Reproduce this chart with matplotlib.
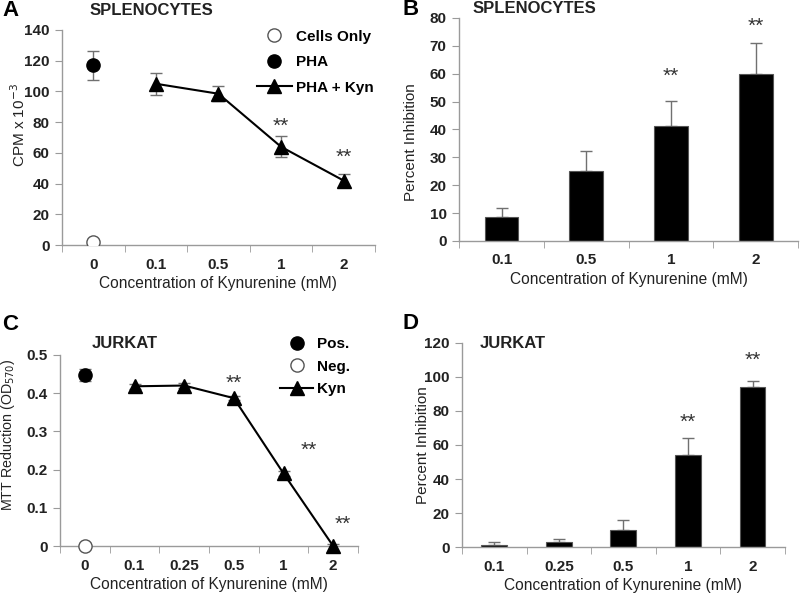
import numpy as np
import matplotlib
matplotlib.use('Agg')
import matplotlib.pyplot as plt
from matplotlib.ticker import FuncFormatter

plt.rcParams['font.family'] = ['Liberation Sans', 'DejaVu Sans']

# Panel A - splenocytes proliferation
a_cats = ['0', '0.1', '0.5', '1', '2']
a_pha = 117
a_pha_err = 9.5
a_cells = 2
a_cells_err = 0.5
a_kyn = [105, 98.5, 64, 42]
a_kyn_err = [7, 5, 7, 4]
a_stars = [(3, 77), (4, 57)]

# Panel B - splenocytes percent inhibition
b_cats = ['0.1', '0.5', '1', '2']
b_vals = [8.7, 25, 41.3, 60]
b_err = [3.2, 7.2, 9.0, 11.0]
b_stars = [(2, 59), (3, 77)]

# Panel C - Jurkat MTT
c_cats = ['0', '0.1', '0.25', '0.5', '1', '2']
c_pos = 0.448
c_pos_err = 0.015
c_neg = 0.0
c_kyn = [0.418, 0.42, 0.387, 0.19, 0.0]
c_kyn_err = [0.006, 0.006, 0.006, 0.006, 0.004]
c_stars = [(3, 0.427), (4.5, 0.251), (5.2, 0.058)]

# Panel D - Jurkat percent inhibition
d_cats = ['0.1', '0.25', '0.5', '1', '2']
d_vals = [1, 3, 10, 54, 94]
d_err = [2, 2, 6, 10, 3.5]
d_stars = [(3, 73.5), (4, 110)]

spine_col = '#9a9a9a'
txt_col = '#222222'
err_col = '#707070'

fig = plt.figure(figsize=(8, 5.94), dpi=100)


def style(ax, cats, ylim, yticks):
    for s in ['top', 'right']:
        ax.spines[s].set_visible(False)
    for s in ['left', 'bottom']:
        ax.spines[s].set_color(spine_col)
        ax.spines[s].set_linewidth(1.0)
    n = len(cats)
    ax.set_xlim(-0.5, n - 0.5)
    ax.set_ylim(*ylim)
    ax.set_xticks(range(n))
    ax.set_xticklabels(cats)
    ax.set_xticks(np.arange(-0.5, n, 1.0), minor=True)
    ax.tick_params(axis='x', which='major', length=0, pad=9)
    ax.tick_params(axis='x', which='minor', length=5, color=spine_col, direction='out')
    ax.set_yticks(yticks)
    ax.yaxis.set_major_formatter(FuncFormatter(lambda v, p: '%g' % v))
    ax.tick_params(axis='y', length=5, color=spine_col, direction='out', pad=4)
    for lab in ax.get_xticklabels() + ax.get_yticklabels():
        lab.set_fontsize(11)
        lab.set_fontweight('bold')
        lab.set_color(txt_col)
    ax.set_xlabel('Concentration of Kynurenine (mM)', fontsize=11.2, color=txt_col, labelpad=3)
    ax.set_facecolor('none')


star_kw = dict(ha='center', va='center', fontsize=15, color='#333333')

# ---- A ----
axA = fig.add_axes([0.0775, 0.5875, 0.391, 0.362])
style(axA, a_cats, (0, 140), range(0, 141, 20))
xk = np.arange(1, 5)
axA.errorbar([0], [a_pha], yerr=[a_pha_err], fmt='none', ecolor=err_col, capsize=4, elinewidth=1)
axA.errorbar([0], [a_cells], yerr=[a_cells_err], fmt='none', ecolor=err_col, capsize=3, elinewidth=1)
axA.errorbar(xk, a_kyn, yerr=a_kyn_err, fmt='none', ecolor=err_col, capsize=4, elinewidth=1)
axA.plot([0], [a_cells], 'o', mfc='white', mec='#555555', ms=9.5, mew=1, label='Cells Only', zorder=3)
axA.plot([0], [a_pha], 'o', color='black', ms=9.5, label='PHA', zorder=3)
axA.plot(xk, a_kyn, '-^', color='black', lw=1.5, ms=9.5, label='PHA + Kyn', zorder=3)
for x, y in a_stars:
    axA.text(x, y, '**', **star_kw)
axA.set_ylabel('CPM x 10$^{-3}$', fontsize=11, color=txt_col)
axA.yaxis.set_label_coords(-0.109, 0.56)
axA.legend(loc='upper right', bbox_to_anchor=(1.04, 1.065), frameon=False,
           handlelength=2.3, handletextpad=0.25, labelspacing=0.75,
           prop={'weight': 'bold', 'size': 11})

# ---- B ----
axB = fig.add_axes([0.574, 0.5943, 0.4235, 0.3754])
style(axB, b_cats, (0, 80), range(0, 81, 10))
axB.bar(range(len(b_vals)), b_vals, width=0.4, color='black', edgecolor='#555555', linewidth=0.8, zorder=2)
axB.errorbar(range(len(b_vals)), b_vals, yerr=[np.zeros(len(b_err)), b_err], fmt='none',
             ecolor=err_col, capsize=4, elinewidth=1, zorder=1)
for x, y in b_stars:
    axB.text(x, y, '**', **star_kw)
axB.set_ylabel('Percent Inhibition', fontsize=11, color=txt_col)
axB.yaxis.set_label_coords(-0.121, 0.445)

# ---- C ----
axC = fig.add_axes([0.075, 0.0808, 0.3725, 0.3216])
style(axC, c_cats, (0, 0.5), np.arange(0, 0.51, 0.1).round(1))
xc = np.arange(1, 6)
axC.errorbar([0], [c_pos], yerr=[c_pos_err], fmt='none', ecolor=err_col, capsize=4, elinewidth=1)
axC.errorbar(xc, c_kyn, yerr=c_kyn_err, fmt='none', ecolor=err_col, capsize=4, elinewidth=1)
axC.plot([0], [c_pos], 'o', color='black', ms=9.5, label='Pos.', zorder=3)
axC.plot([0], [c_neg], 'o', mfc='white', mec='#555555', ms=9.5, mew=1, label='Neg.', zorder=3, clip_on=False)
axC.plot(xc, c_kyn, '-^', color='black', lw=1.5, ms=9.5, label='Kyn', zorder=3, clip_on=False)
for x, y in c_stars:
    axC.text(x, y, '**', **star_kw)
axC.set_ylabel('MTT Reduction (OD$_{570}$)', fontsize=10.3, color=txt_col)
axC.yaxis.set_label_coords(-0.144, 0.58)
axC.legend(loc='upper right', bbox_to_anchor=(1.02, 1.164), frameon=False,
           handlelength=2.2, handletextpad=0.25, labelspacing=0.55,
           prop={'weight': 'bold', 'size': 11})

# ---- D ----
axD = fig.add_axes([0.5775, 0.0791, 0.4035, 0.3435])
style(axD, d_cats, (0, 120), range(0, 121, 20))
axD.bar(range(len(d_vals)), d_vals, width=0.4, color='black', edgecolor='#555555', linewidth=0.8, zorder=2)
axD.errorbar(range(len(d_vals)), d_vals, yerr=[np.zeros(len(d_err)), d_err], fmt='none',
             ecolor=err_col, capsize=4, elinewidth=1, zorder=1)
for x, y in d_stars:
    axD.text(x, y, '**', **star_kw)
axD.set_ylabel('Percent Inhibition', fontsize=11, color=txt_col)
axD.yaxis.set_label_coords(-0.099, 0.5)

# titles and panel letters
title_kw = dict(fontsize=12, fontweight='bold', color=txt_col, va='center')
fig.text(0.1125, 0.983, 'SPLENOCYTES', **title_kw)
fig.text(0.591, 0.986, 'SPLENOCYTES', **title_kw)
fig.text(0.115, 0.421, 'JURKAT', **title_kw)
fig.text(0.6, 0.421, 'JURKAT', **title_kw)
letter_kw = dict(fontsize=16, fontweight='bold', color='black', va='top')
fig.text(0.003, 1.0, 'A', **letter_kw)
fig.text(0.503, 1.002, 'B', **letter_kw)
fig.text(0.003, 0.472, 'C', **letter_kw)
fig.text(0.503, 0.473, 'D', **letter_kw)

fig.savefig('out.png', dpi=100)
